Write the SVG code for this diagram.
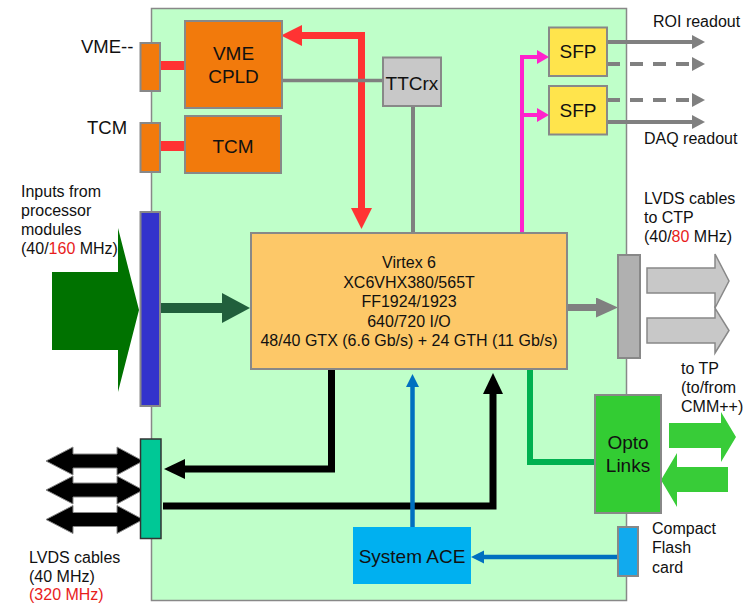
<svg xmlns="http://www.w3.org/2000/svg" width="748" height="609" viewBox="0 0 748 609">
<style>
text{font-family:"Liberation Sans",Arial,sans-serif;fill:#111}
.lbl{font-size:16px}
.big{font-size:19px;text-anchor:middle}
.vx{font-size:16px;text-anchor:middle}
.red{fill:#e81c1c}
.box{stroke:#888;stroke-width:2}
.org{fill:#f27a0c}
.ln{fill:none}
</style>
<defs>
<marker id="hRed" markerUnits="userSpaceOnUse" markerWidth="21" markerHeight="22" refX="0" refY="10.5" orient="auto-start-reverse"><path d="M0,0 L21,10.5 L0,21 z" fill="#ff3333"/></marker>
<marker id="hGray" markerUnits="userSpaceOnUse" markerWidth="14" markerHeight="15" refX="0" refY="7" orient="auto"><path d="M0,0 L13,7 L0,14 z" fill="#808080"/></marker>
<marker id="hGrayBig" markerUnits="userSpaceOnUse" markerWidth="23" markerHeight="21" refX="0" refY="10" orient="auto"><path d="M0,0 L22,10 L0,20 z" fill="#808080"/></marker>
<marker id="hMag" markerUnits="userSpaceOnUse" markerWidth="13" markerHeight="15" refX="0" refY="7" orient="auto"><path d="M0,0 L12,7 L0,14 z" fill="#ff22cc"/></marker>
<marker id="hDkGreen" markerUnits="userSpaceOnUse" markerWidth="29" markerHeight="31" refX="0" refY="15" orient="auto"><path d="M0,0 L28,15 L0,30 z" fill="#215f3c"/></marker>
<marker id="hBlack" markerUnits="userSpaceOnUse" markerWidth="22" markerHeight="21" refX="0" refY="10" orient="auto"><path d="M0,0 L21,10 L0,20 z" fill="#000"/></marker>
<marker id="hBlue" markerUnits="userSpaceOnUse" markerWidth="14" markerHeight="14" refX="0" refY="6.5" orient="auto"><path d="M0,0 L13,6.5 L0,13 z" fill="#0070c0"/></marker>
</defs>

<rect id="board" x="151.5" y="8.5" width="475" height="592" fill="#bfffc9" stroke="#888" stroke-width="1.5"/>

<g id="connectors">
  <path class="ln" d="M160,65.5 H185" stroke="#ff3333" stroke-width="9"/>
  <path class="ln" d="M160,146 H185" stroke="#ff3333" stroke-width="10"/>
  <path class="ln" d="M302,35.5 H361.5 V208" stroke="#ff3333" stroke-width="7" marker-start="url(#hRed)" marker-end="url(#hRed)"/>
  <path class="ln" d="M282,80.5 H383" stroke="#808080" stroke-width="3.5"/>
  <path class="ln" d="M413,106 V233" stroke="#808080" stroke-width="4"/>
  <path class="ln" d="M522,233 V57 H537" stroke="#ff22cc" stroke-width="4" marker-end="url(#hMag)"/>
  <path class="ln" d="M522,115 H537" stroke="#ff22cc" stroke-width="4" marker-end="url(#hMag)"/>
  <path class="ln" d="M607,42 H692" stroke="#808080" stroke-width="4" marker-end="url(#hGray)"/>
  <path class="ln" d="M607,64 H692" stroke="#808080" stroke-width="4" stroke-dasharray="13 10" marker-end="url(#hGray)"/>
  <path class="ln" d="M607,100 H692" stroke="#808080" stroke-width="4" stroke-dasharray="13 10" marker-end="url(#hGray)"/>
  <path class="ln" d="M607,122 H692" stroke="#808080" stroke-width="4" marker-end="url(#hGray)"/>
  <path class="ln" d="M567,307.5 H596" stroke="#808080" stroke-width="7" marker-end="url(#hGrayBig)"/>
  <path class="ln" d="M160,308 H222" stroke="#215f3c" stroke-width="10" marker-end="url(#hDkGreen)"/>
  <path class="ln" d="M331.5,369 V469 H185" stroke="#000" stroke-width="7" marker-end="url(#hBlack)"/>
  <path class="ln" d="M163,506 H493 V394" stroke="#000" stroke-width="7" marker-end="url(#hBlack)"/>
  <path class="ln" d="M412.5,527 V387" stroke="#0070c0" stroke-width="4.5" marker-end="url(#hBlue)"/>
  <path class="ln" d="M618,557 H484" stroke="#0070c0" stroke-width="4.5" marker-end="url(#hBlue)"/>
  <path class="ln" d="M530,369 V462 H595" stroke="#00b050" stroke-width="6"/>
  <!-- external arrows -->
  <polygon points="52,272 118,272 118,228 139,310 118,392 118,350 52,350" fill="#007200"/>
  <polygon points="46,461 73,447 73,454 117,454 117,447 143,461 117,475 117,468 73,468 73,475" fill="#000" stroke="#888" stroke-width="1"/>
  <polygon points="46,490 73,476 73,483 117,483 117,476 143,490 117,504 117,497 73,497 73,504" fill="#000" stroke="#888" stroke-width="1"/>
  <polygon points="46,519.5 73,505.5 73,512.5 117,512.5 117,505.5 143,519.5 117,533.5 117,526.5 73,526.5 73,533.5" fill="#000" stroke="#888" stroke-width="1"/>
  <polygon points="647,268 715,268 715,254 729,281 715,308 715,293 647,293" fill="#c8c8c8" stroke="#888" stroke-width="1.5"/>
  <polygon points="647,318 715,318 715,308 729,330.5 715,353 715,343 647,343" fill="#c8c8c8" stroke="#888" stroke-width="1.5"/>
  <polygon points="669,423 721,423 721,412 736,437 721,462 721,448 669,448" fill="#38cc38"/>
  <polygon points="728,467 677,467 677,453 661,480 677,507 677,492 728,492" fill="#38cc38"/>
</g>

<g id="vme-conn"><rect x="140.5" y="43" width="19.5" height="48" class="box org"/></g>
<g id="vme-cpld"><rect x="185" y="21" width="97" height="87" class="box org"/><text class="big" x="233.5" y="60">VME</text><text class="big" x="233.5" y="83">CPLD</text></g>
<g id="tcm-conn"><rect x="140.5" y="123" width="19.5" height="49" class="box org"/></g>
<g id="tcm"><rect x="185" y="116" width="96" height="57" class="box org"/><text class="big" x="233" y="153">TCM</text></g>
<g id="ttcrx"><rect x="383" y="57.5" width="58" height="48.5" class="box" fill="#c8c8c8"/><text class="big" x="412" y="90">TTCrx</text></g>
<g id="sfp1"><rect x="549" y="27.5" width="58" height="48.5" class="box" fill="#ffe44c"/><text class="big" x="578" y="58">SFP</text></g>
<g id="sfp2"><rect x="549" y="86" width="58" height="48.5" class="box" fill="#ffe44c"/><text class="big" x="578" y="117">SFP</text></g>
<g id="virtex"><rect x="251" y="233" width="316" height="136" class="box" fill="#fdc868"/>
<text class="vx" x="409" y="268">Virtex 6</text>
<text class="vx" x="409" y="287.5">XC6VHX380/565T</text>
<text class="vx" x="409" y="307">FF1924/1923</text>
<text class="vx" x="409" y="326.5">640/720 I/O</text>
<text class="vx" x="409" y="346">48/40 GTX (6.6 Gb/s) + 24 GTH (11 Gb/s)</text></g>
<g id="inputs-conn"><rect x="140.5" y="212" width="19.5" height="194" class="box" fill="#3333cc"/></g>
<g id="lvds-ctp-conn"><rect x="618" y="255" width="22" height="103" class="box" fill="#b0b0b0"/></g>
<g id="lvds-conn"><rect x="140.5" y="439" width="20.5" height="99.5" fill="#00c896" stroke="#333" stroke-width="1.5"/></g>
<g id="opto"><rect x="595" y="395" width="66" height="118" class="box" fill="#33cc33"/><text class="big" x="628" y="449">Opto</text><text class="big" x="628" y="472">Links</text></g>
<g id="cf-conn"><rect x="618" y="527" width="20" height="49" class="box" fill="#11aaee"/></g>
<g id="system-ace"><rect x="353" y="527" width="118" height="57" fill="#00b0f0"/><text class="big" x="412" y="563">System ACE</text></g>

<g id="labels">
<text class="lbl" x="81" y="52.5" style="font-size:18.5px">VME--</text>
<text class="lbl" x="87" y="134" style="font-size:18.5px">TCM</text>
<text class="lbl" x="653" y="27">ROI readout</text>
<text class="lbl" x="644" y="144">DAQ readout</text>
<text class="lbl" x="21" y="197">Inputs from</text>
<text class="lbl" x="21" y="216">processor</text>
<text class="lbl" x="21" y="235">modules</text>
<text class="lbl" x="21" y="254">(40/<tspan class="red">160</tspan> MHz)</text>
<text class="lbl" x="644" y="204">LVDS cables</text>
<text class="lbl" x="644" y="223">to CTP</text>
<text class="lbl" x="644" y="242">(40/<tspan class="red">80</tspan> MHz)</text>
<text class="lbl" x="681" y="374">to TP</text>
<text class="lbl" x="681" y="393">(to/from</text>
<text class="lbl" x="681" y="412">CMM++)</text>
<text class="lbl" x="652" y="534">Compact</text>
<text class="lbl" x="652" y="553">Flash</text>
<text class="lbl" x="652" y="573">card</text>
<text class="lbl" x="29" y="563">LVDS cables</text>
<text class="lbl" x="29" y="582">(40 MHz)</text>
<text class="lbl red" x="29" y="600">(320 MHz)</text>
</g>
</svg>
